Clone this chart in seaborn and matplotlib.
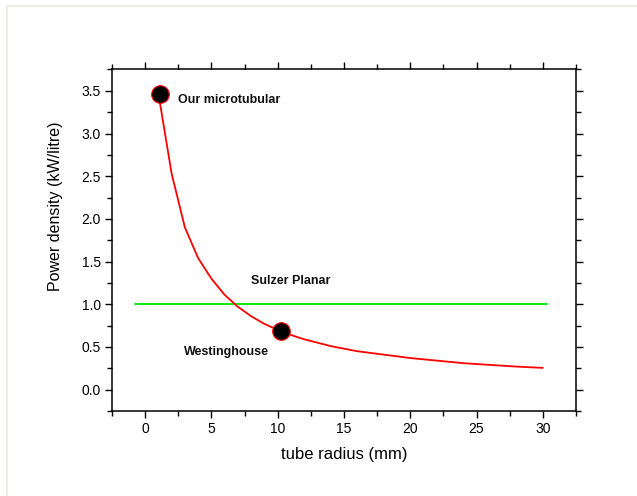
import matplotlib
matplotlib.use("Agg")
import matplotlib.pyplot as plt
import seaborn as sns
import pandas as pd
from matplotlib.lines import Line2D
from matplotlib.ticker import MultipleLocator

# ==============================
# Data
# ==============================
radius = [1, 2, 3, 4, 5, 6, 7, 8, 9, 10, 11, 12, 13, 14, 15, 16, 17, 18, 19, 20,
          22, 24, 26, 28, 30]
power = [3.47, 2.53, 1.90, 1.54, 1.30, 1.11, 0.97, 0.86, 0.77, 0.70, 0.64, 0.59,
         0.55, 0.51, 0.48, 0.45, 0.43, 0.41, 0.39, 0.37, 0.34, 0.31, 0.29, 0.27, 0.255]

sulzer_x = [-0.8, 30.3]
sulzer_y = [1.0, 1.0]

point_names = ["Our microtubular", "Westinghouse"]
point_x = [1.1, 10.25]
point_y = [3.46, 0.69]

label_names = ["Our microtubular", "Sulzer Planar", "Westinghouse"]
label_x = [2.5, 8.0, 2.9]
label_y = [3.39, 1.27, 0.44]

curve = pd.DataFrame({"radius": radius, "power": power})
points = pd.DataFrame({"name": point_names, "radius": point_x, "power": point_y})

# ==============================
# Plot
# ==============================
sns.set_style("ticks")
plt.rcParams['font.family'] = ['Liberation Sans', 'DejaVu Sans']
plt.rcParams.update({"text.color": "black", "axes.labelcolor": "black",
                     "xtick.color": "black", "ytick.color": "black"})

fig = plt.figure(figsize=(6.37, 4.96), dpi=100)
ax = fig.add_axes([0.1758, 0.1714, 0.7284, 0.6885])

# faint outer frame (top and left edges)
fig.add_artist(Line2D([7 / 637, 7 / 637], [0, 1 - 6 / 496], transform=fig.transFigure,
                      color="#EEEBE2", lw=1.5))
fig.add_artist(Line2D([7 / 637, 1], [1 - 6 / 496, 1 - 6 / 496], transform=fig.transFigure,
                      color="#EEEBE2", lw=1.5))

sns.lineplot(x=sulzer_x, y=sulzer_y, color="#00E600", lw=1.3, ax=ax)
sns.lineplot(data=curve, x="radius", y="power", color="red", lw=1.3, ax=ax)
sns.scatterplot(data=points, x="radius", y="power", color="black", edgecolor="red",
                s=160, linewidth=0.8, zorder=5, ax=ax)

for name, lx, ly in zip(label_names, label_x, label_y):
    ax.text(lx, ly, name, fontsize=9, fontweight="bold", va="center", ha="left",
            color="#111111")

ax.set_xlim(-2.5, 32.5)
ax.set_ylim(-0.25, 3.75)
ax.xaxis.set_major_locator(MultipleLocator(5))
ax.xaxis.set_minor_locator(MultipleLocator(2.5))
ax.yaxis.set_major_locator(MultipleLocator(0.5))
ax.yaxis.set_minor_locator(MultipleLocator(0.25))
ax.yaxis.set_major_formatter(plt.FormatStrFormatter("%.1f"))

ax.tick_params(which="both", direction="out", top=True, right=True,
               labeltop=False, labelright=False, width=1.0, color="black",
               labelcolor="black")
ax.tick_params(which="major", length=5, labelsize=10, pad=3)
ax.tick_params(which="minor", length=3.5)
for s in ax.spines.values():
    s.set_visible(True)
    s.set_linewidth(1.1)
    s.set_color("black")

ax.set_xlabel("tube radius (mm)", fontsize=12, labelpad=8, color="black")
ax.set_ylabel("Power density (kW/litre)", fontsize=11.5, color="black")
# the label sits above the middle of the axis in the original
ax.yaxis.set_label_coords(-0.105, 0.60)

plt.savefig("out.png", dpi=100)
